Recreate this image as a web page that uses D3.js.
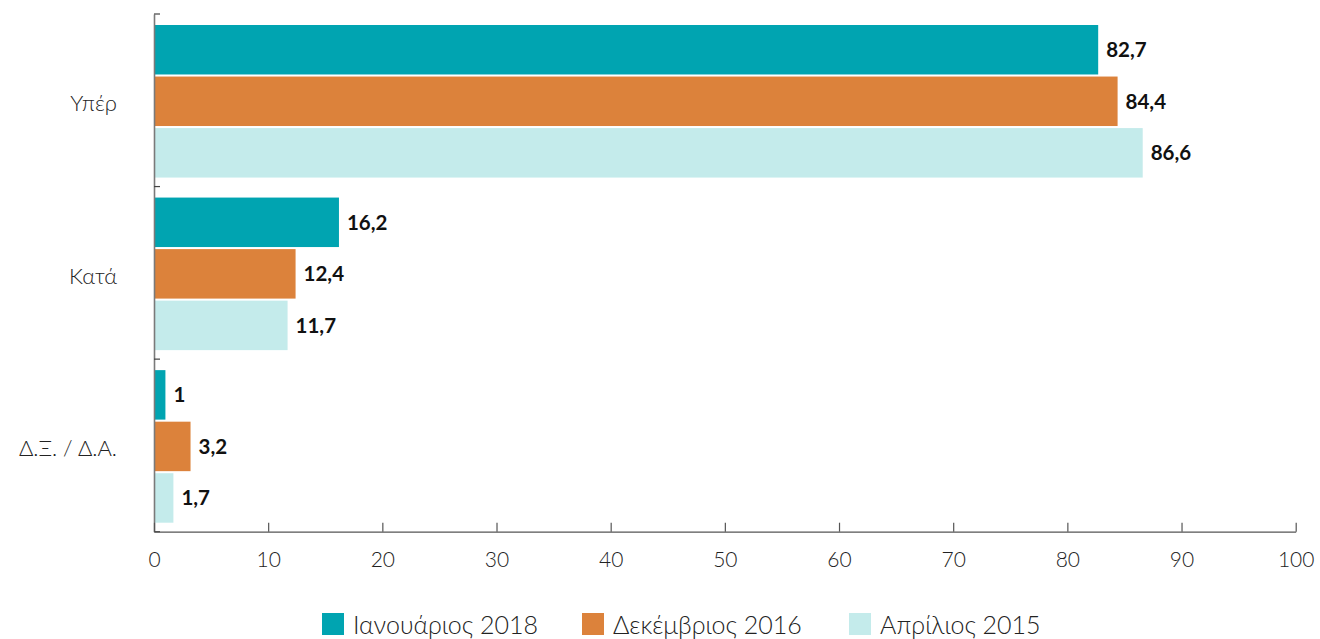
<!DOCTYPE html>
<html><head><meta charset="utf-8">
<script src="https://cdn.jsdelivr.net/npm/d3@7"></script>
<style>body{margin:0;background:#fff}svg{display:block}</style>
</head><body><svg id="c" width="1320" height="639"></svg>
<script>
const categories = ["Υπέρ", "Κατά", "Δ.Ξ. / Δ.Α."];
const seriesNames = ["Ιανουάριος 2018", "Δεκέμβριος 2016", "Απρίλιος 2015"];
const jan2018 = [82.7, 16.2, 1];
const dec2016 = [84.4, 12.4, 3.2];
const apr2015 = [86.6, 11.7, 1.7];
const colors = ["#00a4b1", "#dc823b", "#c4ebeb"];
const xTicks = [0,10,20,30,40,50,60,70,80,90,100];

const seriesValues = [jan2018, dec2016, apr2015];
const svg = d3.select("#c");
const x = d3.scaleLinear().domain([0,100]).range([154, 1295.7]);
const y0 = d3.scaleBand().domain(categories).range([14, 531.7]).padding(0);
const y1 = d3.scaleBand().domain(seriesNames).range([11, y0.bandwidth()-9]).paddingInner(0.04);
const fmt = v => String(v).replace(".", ",");
const labelFont = "Lato, 'Noto Sans', sans-serif";

// bars
categories.forEach((cat, ci) => {
  const g = svg.append("g").attr("transform", `translate(0,${y0(cat)})`);
  seriesNames.forEach((s, si) => {
    const v = seriesValues[si][ci];
    g.append("rect").attr("x", x(0)).attr("y", y1(s))
      .attr("width", x(v)-x(0)).attr("height", y1.bandwidth()).attr("fill", colors[si]);
    g.append("text").attr("x", x(v)+8).attr("y", y1(s)+y1.bandwidth()/2)
      .attr("dy", "0.36em").attr("font-family", labelFont).attr("font-weight", 700)
      .attr("font-size", 20.5).attr("fill", "#111").text(fmt(v));
  });
});

// y axis
const yAxis = svg.append("g").attr("transform", `translate(${x(0)},0)`)
  .call(d3.axisRight(y0).tickSizeInner(6).tickSizeOuter(0).tickFormat(""));
yAxis.select(".domain").attr("stroke", "#7a7a7a").attr("stroke-width", 1.6);
yAxis.selectAll(".tick").remove();
const yEdges = categories.map(c => y0(c)).concat([y0.range()[1]]);
svg.append("g").selectAll("line").data(yEdges).join("line")
  .attr("x1", x(0)).attr("x2", x(0)+6).attr("y1", d=>d).attr("y2", d=>d)
  .attr("stroke", "#444").attr("stroke-width", 1.2);
svg.append("g").selectAll("text").data(categories).join("text")
  .attr("x", 117).attr("y", d => y0(d)+y0.bandwidth()/2+3).attr("dy", "0.35em")
  .attr("text-anchor", "end").attr("font-family", labelFont).attr("font-weight", 300)
  .attr("font-size", 22).attr("fill", "#222").text(d=>d);

// x axis
const xAxis = svg.append("g").attr("transform", `translate(0,${y0.range()[1]})`)
  .call(d3.axisBottom(x).tickValues(xTicks).tickSize(0).tickFormat(d=>d));
xAxis.select(".domain").attr("stroke", "#555").attr("stroke-width", 1.3);
xAxis.selectAll(".tick text").attr("font-family", labelFont).attr("font-weight", 300)
  .attr("font-size", 21).attr("fill", "#222").attr("dy", 0).attr("y", 35);
xAxis.selectAll(".tick").append("line").attr("y1", 0).attr("y2", -9)
  .attr("stroke", "#555").attr("stroke-width", 1.2);

// legend
const legendX = [322, 582, 849];
const lg = svg.append("g").selectAll("g").data(seriesNames).join("g")
  .attr("transform", (d,i)=>`translate(${legendX[i]},613)`);
lg.append("rect").attr("width", 22).attr("height", 22).attr("fill", (d,i)=>colors[i]);
lg.append("text").attr("x", 31).attr("y", 12).attr("dy", "0.35em")
  .attr("font-family", labelFont).attr("font-weight", 300).attr("font-size", 25)
  .attr("fill", "#222").text(d=>d);
</script></body></html>
